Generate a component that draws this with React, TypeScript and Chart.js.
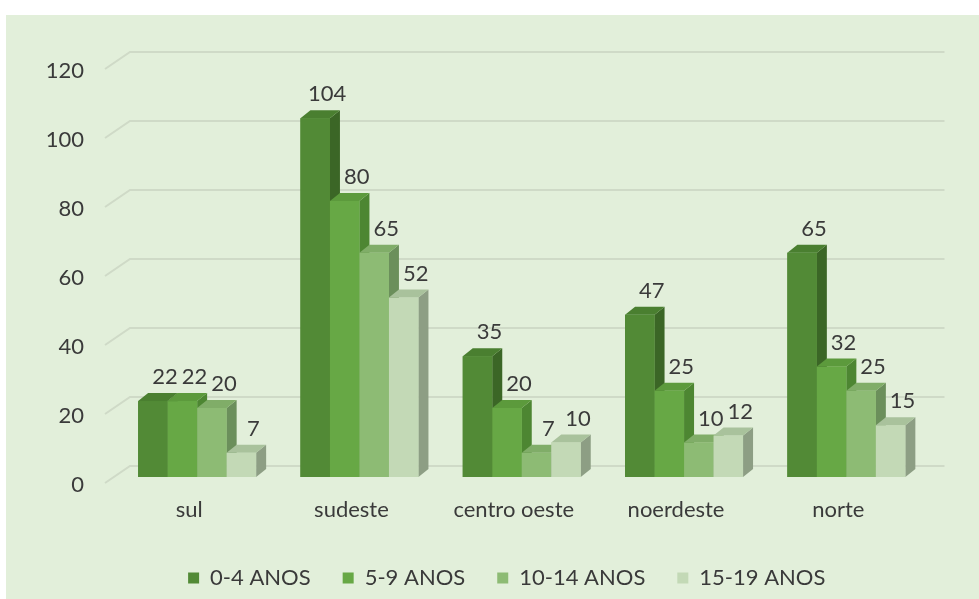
import React, { useEffect, useRef } from "react";
import { Chart, registerables } from "chart.js";

Chart.register(...registerables);

const categories = ["sul", "sudeste", "centro oeste", "noerdeste", "norte"];
const seriesNames = ["0-4 ANOS", "5-9 ANOS", "10-14 ANOS", "15-19 ANOS"];
const ages0to4 = [22, 104, 35, 47, 65];
const ages5to9 = [22, 80, 20, 25, 32];
const ages10to14 = [20, 65, 7, 10, 25];
const ages15to19 = [7, 52, 10, 12, 15];
const yTickValues = [0, 20, 40, 60, 80, 100, 120];

const frontColors = ["#528a36", "#67a845", "#8dbb74", "#c3d9b6"];
const sideColors = ["#3b6626", "#4d8632", "#6b8f5b", "#8d9e84"];
const topColors = ["#4a7f30", "#5c9a3c", "#80ad68", "#a9c29c"];

const FONT = "Lato, 'Open Sans', sans-serif";
const TEXT = "#3a3a3a";
const DX = 10;
const DY = 8;

const bgPlugin = {
  id: "bg",
  beforeDraw(chart: any) {
    const { ctx, width, height } = chart;
    ctx.save();
    ctx.fillStyle = "#ffffff";
    ctx.fillRect(0, 0, width, height);
    ctx.fillStyle = "#e2efda";
    ctx.fillRect(6, 15, width - 6, height - 15);
    ctx.restore();
  },
};

const gridPlugin = {
  id: "grid3d",
  beforeDatasetsDraw(chart: any) {
    const { ctx, chartArea } = chart;
    const ys = chart.scales.y;
    ctx.save();
    ctx.strokeStyle = "#cfdac7";
    ctx.lineWidth = 2;
    for (const v of yTickValues) {
      const py = ys.getPixelForValue(v) + 6;
      ctx.beginPath();
      ctx.moveTo(chartArea.left - 11, py);
      ctx.lineTo(chartArea.left + 14, py - 17);
      ctx.lineTo(chartArea.right + 17, py - 17);
      ctx.stroke();
    }
    ctx.restore();
  },
};

const bar3dPlugin = {
  id: "bar3d",
  afterDatasetsDraw(chart: any) {
    const { ctx } = chart;
    const nCat = chart.data.labels.length;
    const nSet = chart.data.datasets.length;
    ctx.save();
    for (let i = 0; i < nCat; i++) {
      for (let d = 0; d < nSet; d++) {
        const el = chart.getDatasetMeta(d).data[i];
        const { x, y, base, width } = el.getProps(["x", "y", "base", "width"], true);
        const l = x - width / 2;
        const r = x + width / 2;
        // side
        ctx.fillStyle = sideColors[d];
        ctx.beginPath();
        ctx.moveTo(r, y);
        ctx.lineTo(r + DX, y - DY);
        ctx.lineTo(r + DX, base - DY);
        ctx.lineTo(r, base);
        ctx.closePath();
        ctx.fill();
        // top
        ctx.fillStyle = topColors[d];
        ctx.beginPath();
        ctx.moveTo(l, y);
        ctx.lineTo(l + DX, y - DY);
        ctx.lineTo(r + DX, y - DY);
        ctx.lineTo(r, y);
        ctx.closePath();
        ctx.fill();
        // front
        ctx.fillStyle = frontColors[d];
        ctx.fillRect(l, y, width, base - y);
      }
    }
    ctx.fillStyle = TEXT;
    ctx.font = `22px ${FONT}`;
    ctx.textAlign = "center";
    ctx.textBaseline = "middle";
    for (let d = 0; d < nSet; d++) {
      const meta = chart.getDatasetMeta(d);
      const values = chart.data.datasets[d].data;
      meta.data.forEach((el: any, i: number) => {
        const { x, y } = el.getProps(["x", "y"], true);
        ctx.fillText(String(values[i]), x + 12, y - 24);
      });
    }
    ctx.restore();
  },
};

const legendShiftPlugin = {
  id: "legendShift",
  afterLayout(chart: any) {
    const lg = chart.legend;
    if (lg) {
      lg.left -= 15;
      lg.right -= 15;
    }
  },
};

export default function App() {
  const canvasRef = useRef<HTMLCanvasElement | null>(null);

  useEffect(() => {
    document.body.style.margin = "0";
    const canvas = canvasRef.current;
    if (!canvas) return;
    const seriesValues = [ages0to4, ages5to9, ages10to14, ages15to19];
    const chart = new Chart(canvas, {
      type: "bar",
      data: {
        labels: categories,
        datasets: seriesNames.map((name, k) => ({
          label: name,
          data: seriesValues[k],
          backgroundColor: frontColors[k],
          borderWidth: 0,
          categoryPercentage: 0.727,
          barPercentage: 1,
        })),
      },
      options: {
        responsive: false,
        animation: false,
        events: [],
        layout: { padding: { left: 0, right: 51.5, top: 63, bottom: 0 } },
        plugins: {
          legend: {
            position: "bottom",
            fullSize: false,
            labels: {
              boxWidth: 11,
              boxHeight: 11,
              padding: 32,
              color: TEXT,
              font: { family: FONT, size: 22 },
            },
          },
          tooltip: { enabled: false },
        },
        scales: {
          x: {
            grid: { display: false, drawTicks: false },
            border: { display: false },
            ticks: {
              color: TEXT,
              font: { family: FONT, size: 22 },
              padding: 20,
              labelOffset: -8,
            },
            afterFit(scale: any) {
              scale.height = 58;
            },
          },
          y: {
            min: 0,
            max: 120,
            grid: { display: false, drawTicks: false },
            border: { display: false },
            ticks: {
              stepSize: 20,
              color: TEXT,
              font: { family: FONT, size: 22 },
              padding: 32,
              labelOffset: 8,
            },
            afterFit(scale: any) {
              scale.width = 116;
            },
          },
        },
      },
      plugins: [bgPlugin, gridPlugin, bar3dPlugin, legendShiftPlugin],
    });
    return () => chart.destroy();
  }, []);

  return (
    <div style={{ width: 979, height: 599 }}>
      <canvas ref={canvasRef} width={979} height={599} />
    </div>
  );
}
